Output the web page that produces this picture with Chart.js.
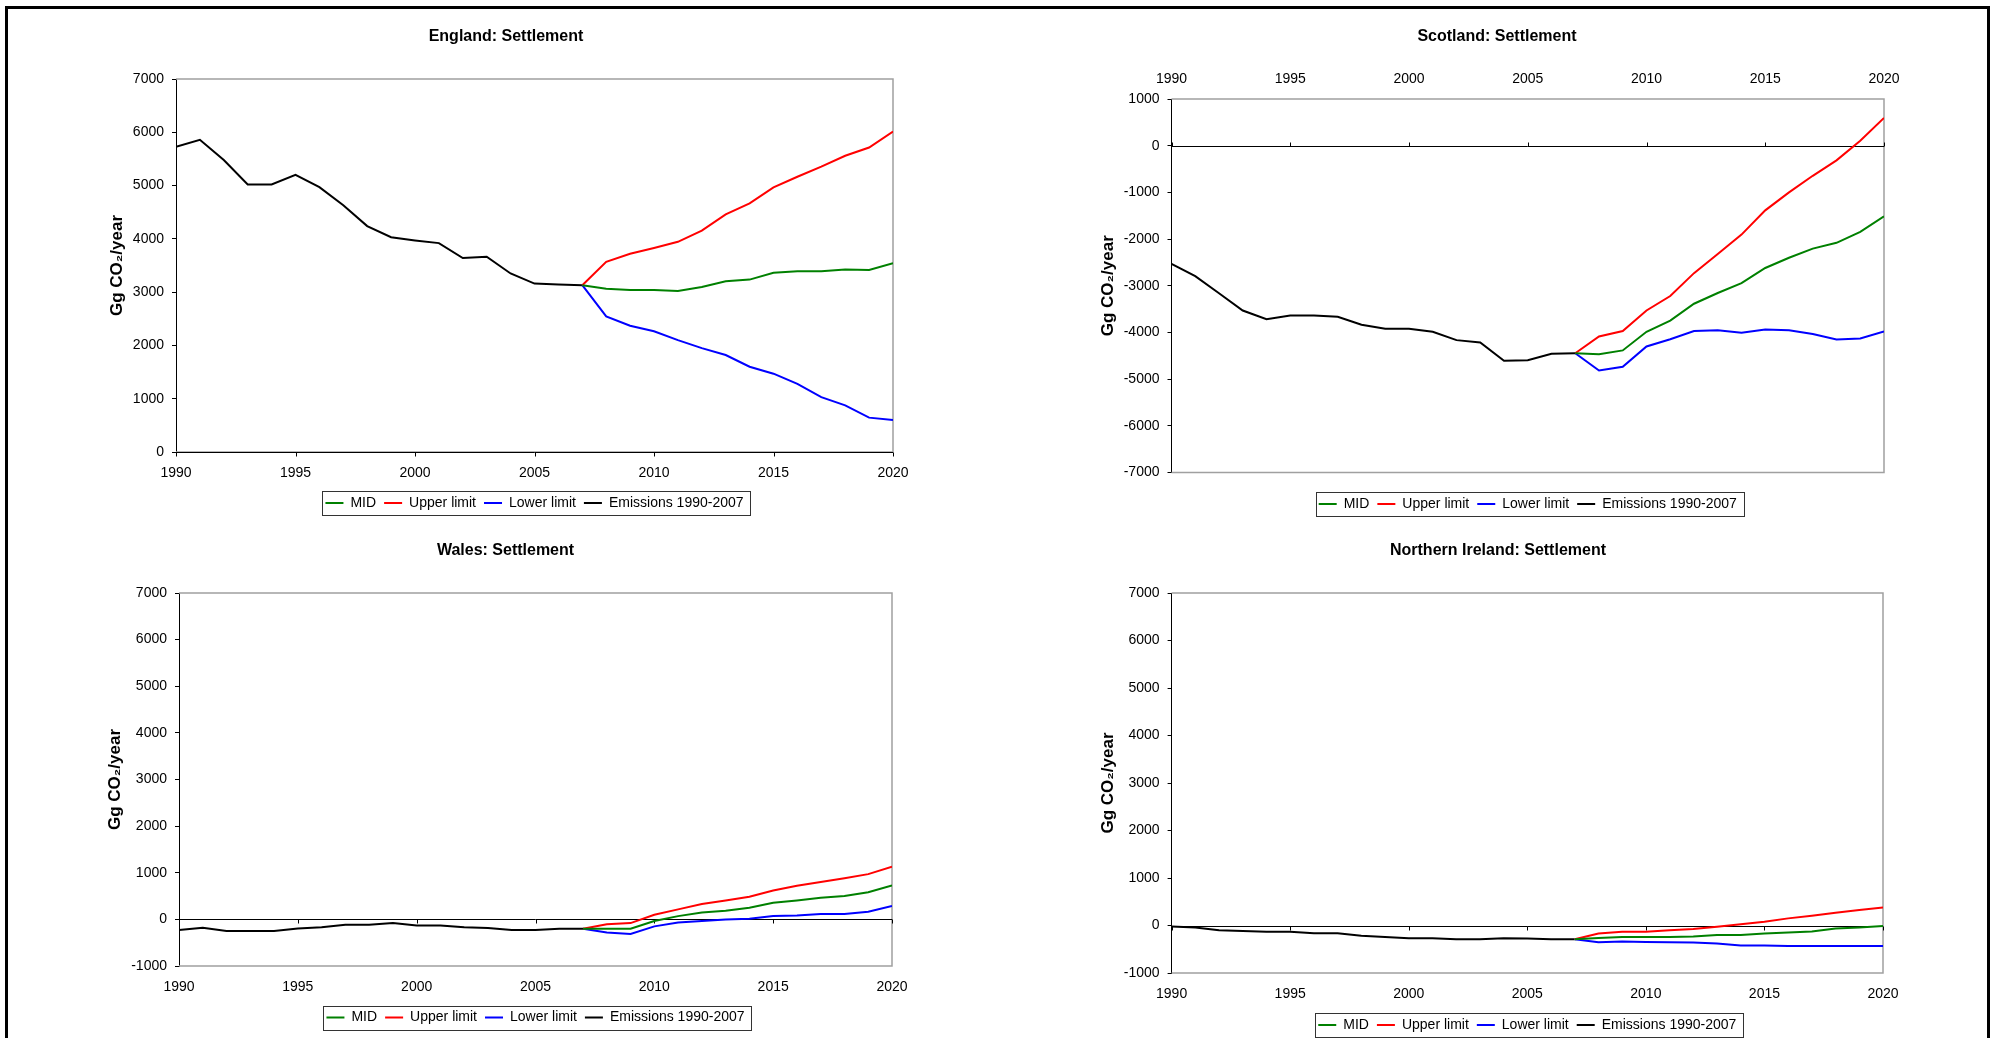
<!DOCTYPE html>
<html>
<head>
<meta charset="utf-8">
<title>Settlement emissions by country</title>
<style>
  html, body { margin: 0; padding: 0; background: #fff; width: 1991px; height: 1038px; overflow: hidden; }
  canvas { position: absolute; }
  #frame { position: absolute; left: 5px; top: 6px; width: 1979px; height: 1100px; border: 3px solid #000; }
</style>
</head>
<body>
<div id="frame"></div>
<canvas id="england" width="996" height="525" style="left:0px;top:0px"></canvas>
<canvas id="scotland" width="995" height="525" style="left:996px;top:0px"></canvas>
<canvas id="wales" width="996" height="525" style="left:0px;top:519px"></canvas>
<canvas id="nireland" width="995" height="525" style="left:996px;top:519px"></canvas>
<script src="https://cdn.jsdelivr.net/npm/chart.js@4/dist/chart.umd.min.js"></script>
<script>
// years
const histYears = [1990, 1991, 1992, 1993, 1994, 1995, 1996, 1997, 1998, 1999, 2000, 2001, 2002, 2003, 2004, 2005, 2006, 2007];
const projYears = [2007, 2008, 2009, 2010, 2011, 2012, 2013, 2014, 2015, 2016, 2017, 2018, 2019, 2020];

// England (Gg CO2/year)
const englandEmissions = [5730, 5860, 5480, 5020, 5020, 5200, 4970, 4630, 4240, 4030, 3970, 3920, 3640, 3665, 3350, 3160, 3145, 3130];
const englandMid = [3130, 3065, 3040, 3040, 3020, 3095, 3205, 3235, 3365, 3390, 3390, 3425, 3415, 3545];
const englandUpper = [3130, 3570, 3720, 3830, 3945, 4155, 4460, 4665, 4965, 5165, 5355, 5560, 5715, 6015];
const englandLower = [3130, 2545, 2370, 2265, 2100, 1950, 1820, 1600, 1470, 1280, 1030, 875, 645, 600];

// Scotland
const scotlandEmissions = [-2530, -2795, -3160, -3530, -3715, -3635, -3635, -3665, -3835, -3920, -3920, -3985, -4165, -4215, -4605, -4595, -4455, -4445];
const scotlandMid = [-4445, -4465, -4385, -3985, -3745, -3385, -3155, -2945, -2620, -2400, -2205, -2080, -1845, -1515];
const scotlandUpper = [-4445, -4085, -3970, -3530, -3220, -2730, -2320, -1905, -1385, -1000, -645, -315, 105, 595];
const scotlandLower = [-4445, -4815, -4735, -4300, -4145, -3970, -3955, -4005, -3935, -3955, -4035, -4150, -4130, -3980];

// Wales
const walesEmissions = [-230, -180, -250, -250, -250, -195, -170, -115, -115, -80, -130, -130, -170, -185, -230, -230, -200, -200];
const walesMid = [-200, -200, -200, -35, 70, 145, 185, 250, 355, 405, 465, 500, 580, 730];
const walesUpper = [-200, -105, -80, 100, 215, 330, 405, 485, 620, 720, 800, 880, 970, 1130];
const walesLower = [-200, -280, -315, -150, -65, -35, -5, 15, 70, 85, 115, 115, 165, 285];

// Northern Ireland
const niEmissions = [-20, -40, -100, -115, -130, -130, -165, -165, -215, -240, -270, -270, -290, -290, -270, -275, -290, -290];
const niMid = [-290, -265, -240, -240, -240, -230, -200, -200, -170, -145, -125, -65, -40, -10];
const niUpper = [-290, -170, -130, -130, -100, -75, -25, 25, 80, 150, 205, 270, 325, 380];
const niLower = [-290, -355, -335, -345, -355, -360, -380, -420, -420, -430, -430, -430, -430, -430];

const seriesNames = ['MID', 'Upper limit', 'Lower limit', 'Emissions 1990-2007'];
const seriesColors = ['#008000', '#ff0000', '#0000ff', '#000000'];

Chart.defaults.font.family = "'Liberation Sans', Arial, sans-serif";
Chart.defaults.color = '#000';

// plot frame, zero axis with its ticks, and the legend box
const axisFrame = {
  id: 'axisFrame',
  beforeDatasetsDraw(chart, args, opts) {
    const { ctx, chartArea: a, scales } = chart;
    const x = scales.x, y = scales.y;
    ctx.save();
    ctx.strokeStyle = '#a0a0a0';
    ctx.lineWidth = 1.5;
    ctx.beginPath();
    ctx.moveTo(a.left, a.top);
    ctx.lineTo(a.right, a.top);
    ctx.lineTo(a.right, a.bottom);
    ctx.lineTo(a.left, a.bottom);
    ctx.stroke();

    const y0 = Math.round(y.getPixelForValue(0)) + 0.5;
    ctx.strokeStyle = '#000';
    ctx.lineWidth = 1;
    ctx.beginPath();
    ctx.moveTo(a.left, y0);
    ctx.lineTo(a.right, y0);
    x.ticks.forEach((t) => {
      const px = Math.round(x.getPixelForValue(t.value)) + 0.5;
      ctx.moveTo(px, y0);
      ctx.lineTo(px, y0 + opts.dir * 4);
    });
    ctx.stroke();
    ctx.restore();
  },
  afterDraw(chart) {
    const hb = chart.legend && chart.legend.legendHitBoxes;
    if (!hb || !hb.length) return;
    const left = Math.min(...hb.map((h) => h.left)) - 3;
    const right = Math.max(...hb.map((h) => h.left + h.width)) + 7;
    const top = hb[0].top - 5;
    const bottom = hb[0].top + hb[0].height + 5;
    const ctx = chart.ctx;
    ctx.save();
    ctx.strokeStyle = '#333';
    ctx.lineWidth = 1;
    ctx.strokeRect(Math.round(left) + 0.5, Math.round(top) + 0.5, Math.round(right - left), Math.round(bottom - top));
    ctx.restore();
  }
};

function points(years, values) {
  return values.map((v, i) => ({ x: years[i], y: v }));
}

function makeChart(id, cfg) {
  const sets = [
    points(projYears, cfg.mid),
    points(projYears, cfg.upper),
    points(projYears, cfg.lower),
    points(histYears, cfg.emissions)
  ];
  const scales = {
    x: {
      type: 'linear',
      position: cfg.xPos,
      min: 1990,
      max: 2020,
      ticks: { stepSize: 5, font: { size: 14 }, padding: cfg.xTickPad, maxRotation: 0, autoSkip: false, callback: (v) => String(v) },
      grid: { display: false, drawTicks: false },
      border: { display: false },
      afterFit: (s) => { s.height = cfg.xHeight; }
    },
    y: {
      min: cfg.yMin,
      max: cfg.yMax,
      ticks: { stepSize: 1000, font: { size: 14 }, padding: 8, callback: (v) => String(v) },
      grid: { drawOnChartArea: false, drawTicks: true, tickLength: 4, color: '#000' },
      border: { display: true, color: '#000', width: 1 },
      title: { display: true, text: 'Gg CO₂/year', font: { size: 17, weight: 'bold' }, padding: { top: cfg.yTitlePad, bottom: 0 } },
      afterFit: (s) => { s.width = cfg.yWidth; }
    }
  };
  if (cfg.gap) {
    // empty space between plot and legend when the x labels sit on top
    scales.gap = {
      type: 'linear', axis: 'x', position: 'bottom', display: true,
      ticks: { display: false },
      grid: { display: false, drawTicks: false },
      border: { display: false },
      afterFit: (s) => { s.height = cfg.gap; }
    };
  }

  return new Chart(document.getElementById(id), {
    type: 'line',
    data: {
      datasets: sets.map((d, i) => ({
        label: seriesNames[i],
        data: d,
        borderColor: seriesColors[i],
        backgroundColor: seriesColors[i],
        borderWidth: 2,
        pointRadius: 0,
        tension: 0,
        fill: false
      }))
    },
    options: {
      responsive: false,
      animation: false,
      devicePixelRatio: 1,
      layout: { padding: cfg.pad },
      plugins: {
        title: { display: true, text: cfg.title, font: { size: 16, weight: 'bold' }, padding: cfg.titlePad },
        legend: {
          position: 'bottom',
          fullSize: false,
          labels: { font: { size: 14 }, boxWidth: 18, boxHeight: 0, padding: 8 }
        },
        tooltip: { enabled: false },
        axisFrame: { dir: cfg.tickDir }
      },
      scales: scales
    },
    plugins: [axisFrame]
  });
}

makeChart('england', {
  title: 'England: Settlement',
  mid: englandMid, upper: englandUpper, lower: englandLower, emissions: englandEmissions,
  yMin: 0, yMax: 7000,
  xPos: 'bottom', tickDir: 1, xTickPad: 12.6, xHeight: 36,
  yWidth: 57, yTitlePad: -12.2,
  pad: { left: 119, right: 103, top: 0, bottom: 5 },
  titlePad: { top: 27.4, bottom: 32.4 }
});

makeChart('scotland', {
  title: 'Scotland: Settlement',
  mid: scotlandMid, upper: scotlandUpper, lower: scotlandLower, emissions: scotlandEmissions,
  yMin: -7000, yMax: 1000,
  xPos: 'top', tickDir: -1, xTickPad: 11.6, xHeight: 43, gap: 16.5,
  yWidth: 61.5, yTitlePad: -12.2,
  pad: { left: 114, right: 107, top: 0, bottom: 4 },
  titlePad: { top: 27.4, bottom: 9.4 }
});

makeChart('wales', {
  title: 'Wales: Settlement',
  mid: walesMid, upper: walesUpper, lower: walesLower, emissions: walesEmissions,
  yMin: -1000, yMax: 7000,
  xPos: 'bottom', tickDir: 1, xTickPad: 12.6, xHeight: 36.5,
  yWidth: 60, yTitlePad: -14.2,
  pad: { left: 119, right: 104, top: 0, bottom: 9.5 },
  titlePad: { top: 22.4, bottom: 32.4 }
});

makeChart('nireland', {
  title: 'Northern Ireland: Settlement',
  mid: niMid, upper: niUpper, lower: niLower, emissions: niEmissions,
  yMin: -1000, yMax: 7000,
  xPos: 'bottom', tickDir: 1, xTickPad: 12.6, xHeight: 37,
  yWidth: 58.6, yTitlePad: -15.2,
  pad: { left: 117, right: 108, top: 0, bottom: 2 },
  titlePad: { top: 22.4, bottom: 32.4 }
});
</script>
</body>
</html>
